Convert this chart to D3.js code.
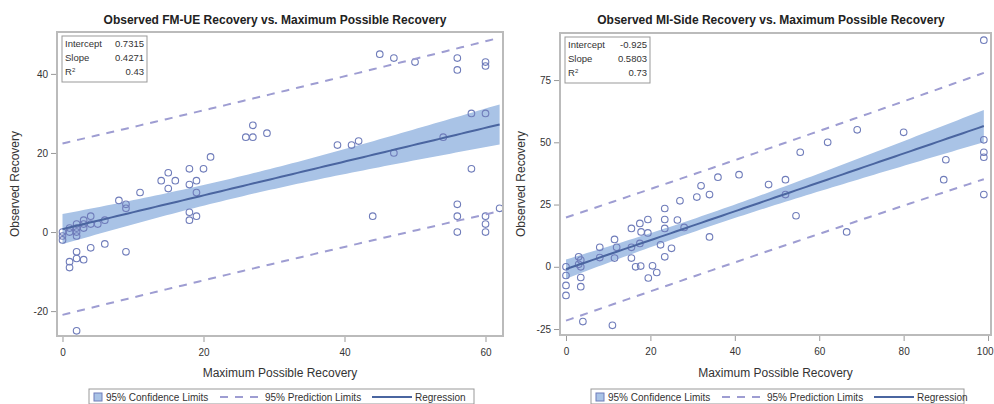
<!DOCTYPE html>
<html>
<head>
<meta charset="utf-8">
<script src="https://cdn.jsdelivr.net/npm/d3@7"></script>
<style>
  body { margin: 0; background: #fff; }
  text { font-family: "Liberation Sans", Arial, sans-serif; }
</style>
</head>
<body>
<svg id="chart" width="994" height="404"></svg>
<script>
// ---- data ----
const fmTitle = "Observed FM-UE Recovery vs. Maximum Possible Recovery";
const fmX = [0,0,0,1,1,2,2,2,2,3,3,3,4,4,5,6,8,9,9,11,
  2,4,6,9,1,1,2,3,2,
  14,15,15,16,18,18,19,19,20,21,18,18,19,
  26,27,27,29,39,41,42,47,54,58,58,60,
  45,47,50,56,56,60,60,
  44,56,56,56,60,60,60,62];
const fmY = [0,-1,-2,1,0,2,1,0,-1,3,2,1,4,2,2,3,8,7,6,10,
  -5,-4,-3,-5,-7.5,-9,-6.7,-7,-25,
  13,15,11,13,16,12,13,10,16,19,5,3,4,
  24,24,27,25,22,22,23,20,24,16,30,30,
  45,44,43,44,41,43,42,
  4,7,4,0,4,2,0,6];
const fmStats = [0.7315, 0.4271, 0.43];
const fmRmse = 10.7;
const fmXTicks = [0, 20, 40, 60];
const fmYTicks = [-20, 0, 20, 40];

const msTitle = "Observed MI-Side Recovery vs. Maximum Possible Recovery";
const msX = [0,0,0,0,3,3.5,3,3.5,3.5,3.5,4,11,
  8,8,11.5,11.5,12,15.5,15.5,16.5,17.7,20.5,19.5,21.5,
  15.5,17.5,17.8,19.4,19.4,17.5,22.4,23.4,23.4,23.4,26.4,28,25,23.4,
  27,31,32,34,34,36,41,48,52,52,54.5,55.5,62,66.5,69,80,90,89.5,99,99,99,99,99];
const msY = [0,-3.5,-7.5,-11.5,4,2.7,1,0,-4.3,-8,-22,-23.5,
  7.8,3.7,11,3.5,7.8,7.8,3.5,0,0.3,0.4,-4.5,-2.3,
  15.4,17.4,14,19,13.6,9.4,8.8,23.4,19,15.4,18.8,15.8,7.4,4,
  26.5,28,32.5,29,12,36,37,33,35,29,20.5,46,50,14,55,54,43,35,91,51,46,44,29];
const msStats = [-0.925, 0.5803, 0.73];
const msRmse = 10.2;
const msXTicks = [0, 20, 40, 60, 80, 100];
const msYTicks = [-25, 0, 25, 50, 75];

const statLabels = ["Intercept", "Slope", "R"];
const legendLabels = ["95% Confidence Limits", "95% Prediction Limits", "Regression"];

// ---- style ----
const colMarker = "#6f7cba", colFit = "#4a65a0", colBand = "#a9c3e6", colPred = "#9e9dd2";
const colFrame = "#bbbbbb", colText = "#333";

const svg = d3.select("#chart");

const panels = [
  { title: fmTitle, xs: fmX, ys: fmY, stats: fmStats, rmse: fmRmse, xt: fmXTicks, yt: fmYTicks,
    frame: [57, 32, 503, 336], xd: [-0.78, 62.48], yd: [50.6, -26.3], titleX: 275,
    ylabX: 15, legend: [89, 474] },
  { title: msTitle, xs: msX, ys: msY, stats: msStats, rmse: msRmse, xt: msXTicks, yt: msYTicks,
    frame: [560, 33, 991, 335], xd: [-1.42, 100.7], yd: [93.9, -27.4], titleX: 771,
    ylabX: 521, legend: [591, 964] }
];

panels.forEach(p => {
  const [x0, y0, x1, y1] = p.frame;
  const x = d3.scaleLinear().domain(p.xd).range([x0, x1]);
  const y = d3.scaleLinear().domain(p.yd).range([y0, y1]);
  const g = svg.append("g");

  // confidence / prediction limits from the points and the printed fit
  const [b0, b1] = p.stats;
  const n = p.xs.length, xbar = d3.mean(p.xs);
  const sxx = d3.sum(p.xs, v => (v - xbar) ** 2);
  const s = p.rmse, t = 1.995;
  const [xmin, xmax] = d3.extent(p.xs);
  const grid = d3.range(xmin, xmax, (xmax - xmin) / 80).concat([xmax]);
  const pts = grid.map(v => {
    const h = (v - xbar) ** 2 / sxx;
    return { x: v, fit: b0 + b1 * v,
      clm: t * s * Math.sqrt(1 / n + h), cli: t * s * Math.sqrt(1 + 1 / n + h) };
  });

  const clip = "clip" + x0;
  svg.append("clipPath").attr("id", clip).append("rect")
    .attr("x", x0).attr("y", y0).attr("width", x1 - x0).attr("height", y1 - y0);
  const inner = g.append("g").attr("clip-path", "url(#" + clip + ")");

  inner.append("path").datum(pts)
    .attr("fill", colBand)
    .attr("d", d3.area().x(d => x(d.x)).y0(d => y(d.fit - d.clm)).y1(d => y(d.fit + d.clm)));

  inner.selectAll("circle").data(p.xs).enter().append("circle")
    .attr("cx", d => x(d)).attr("cy", (d, i) => y(p.ys[i])).attr("r", 3.3)
    .attr("fill", "none").attr("stroke", colMarker).attr("stroke-width", 1.1);

  inner.append("path").datum(pts)
    .attr("fill", "none").attr("stroke", colFit).attr("stroke-width", 2)
    .attr("d", d3.line().x(d => x(d.x)).y(d => y(d.fit)));

  [1, -1].forEach(sg => {
    inner.append("path").datum(pts)
      .attr("fill", "none").attr("stroke", colPred).attr("stroke-width", 2)
      .attr("stroke-dasharray", "8,7")
      .attr("d", d3.line().x(d => x(d.x)).y(d => y(d.fit + sg * d.cli)));
  });

  // frame
  g.append("rect").attr("x", x0).attr("y", y0).attr("width", x1 - x0).attr("height", y1 - y0)
    .attr("fill", "none").attr("stroke", colFrame).attr("stroke-width", 2);

  // axes
  const ax = g.append("g").attr("transform", "translate(0," + (y1 + 1) + ")")
    .call(d3.axisBottom(x).tickValues(p.xt).tickSize(5).tickPadding(7).tickFormat(d => String(d)));
  const ay = g.append("g").attr("transform", "translate(" + (x0 - 1) + ",0)")
    .call(d3.axisLeft(y).tickValues(p.yt).tickSize(5).tickPadding(3).tickFormat(d => String(d)));
  [ax, ay].forEach(a => {
    a.select(".domain").remove();
    a.selectAll("line").attr("stroke", "#999");
    a.selectAll("text").attr("fill", colText).style("font-size", "10px");
  });
  // keep the last x label inside the window
  ax.selectAll(".tick text").filter(d => x(d) > 975).attr("text-anchor", "end").attr("x", 993 - x(100));

  // titles
  g.append("text").attr("x", p.titleX).attr("y", 24).attr("text-anchor", "middle")
    .style("font-size", "12px").style("font-weight", "bold").attr("fill", "#222").text(p.title);
  g.append("text").attr("x", (x0 + x1) / 2).attr("y", 377).attr("text-anchor", "middle")
    .style("font-size", "12px").attr("fill", colText).text("Maximum Possible Recovery");
  g.append("text").attr("transform", "translate(" + p.ylabX + "," + (y0 + y1) / 2 + ") rotate(-90)")
    .attr("dy", "0.35em").attr("text-anchor", "middle")
    .style("font-size", "12px").attr("fill", colText).text("Observed Recovery");

  // statistics inset
  const ib = g.append("g").attr("transform", "translate(" + (x0 + 5) + "," + (y0 + 4) + ")");
  ib.append("rect").attr("width", 85).attr("height", 46)
    .attr("fill", "#fff").attr("stroke", "#999").attr("stroke-width", 1);
  statLabels.forEach((lab, i) => {
    const tl = ib.append("text").attr("x", 3).attr("y", 11 + i * 14)
      .style("font-size", "9.5px").attr("fill", colText).text(lab);
    if (i === 2) tl.append("tspan").attr("dy", -3).style("font-size", "6px").text("2");
    ib.append("text").attr("x", 82).attr("y", 11 + i * 14).attr("text-anchor", "end")
      .style("font-size", "9.5px").attr("fill", colText).text(String(p.stats[i]));
  });

  // legend
  const [l0, l1] = p.legend;
  const lg = g.append("g");
  lg.append("rect").attr("x", l0).attr("y", 389).attr("width", l1 - l0).attr("height", 15)
    .attr("fill", "#fff").attr("stroke", "#999").attr("stroke-width", 1);
  const ly = 397;
  lg.append("rect").attr("x", l0 + 5).attr("y", ly - 4).attr("width", 8).attr("height", 8)
    .attr("fill", colBand).attr("stroke", colMarker).attr("stroke-width", 1);
  const tx = [l0 + 17, l0 + 176, l0 + 326];
  lg.append("line").attr("x1", l0 + 131).attr("x2", l0 + 173).attr("y1", ly).attr("y2", ly)
    .attr("stroke", colPred).attr("stroke-width", 2).attr("stroke-dasharray", "8,7");
  lg.append("line").attr("x1", l0 + 283).attr("x2", l0 + 323).attr("y1", ly).attr("y2", ly)
    .attr("stroke", colFit).attr("stroke-width", 2);
  legendLabels.forEach((lab, i) => {
    lg.append("text").attr("x", tx[i]).attr("y", ly).attr("dy", "0.35em")
      .style("font-size", "10px").attr("fill", colText).text(lab);
  });
});
</script>
</body>
</html>
